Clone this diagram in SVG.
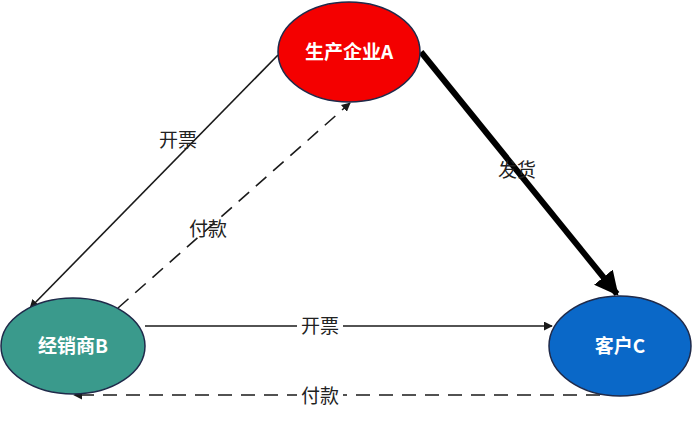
<svg xmlns="http://www.w3.org/2000/svg" width="693" height="421" viewBox="0 0 693 421">
<style>
.n{stroke:#1f2a4a;stroke-width:1.5}
.nt{font-family:"Noto Sans CJK SC","Noto Sans",sans-serif;font-weight:bold;font-size:19px;fill:#fff;text-anchor:middle}
.l{font-family:"Noto Sans CJK SC","Noto Sans",sans-serif;font-size:19px;fill:#222;text-anchor:middle}
.c{stroke:#1a1a1a;stroke-width:1.6;fill:none}
.d{stroke-dasharray:14 9}
</style>
<defs>
<marker id="ar" viewBox="0 0 10 10" refX="9" refY="5" markerWidth="9" markerHeight="9" markerUnits="userSpaceOnUse" orient="auto"><path d="M0,0L10,5L0,10z" fill="#1a1a1a"/></marker>
<marker id="ab" viewBox="0 0 10 10" refX="9" refY="5" markerWidth="4" markerHeight="4" orient="auto"><path d="M0,0L10,5L0,10z" fill="#000"/></marker>
</defs>
<g id="connectors">
<line class="c" x1="278" y1="55" x2="30" y2="308" marker-end="url(#ar)"/>
<line class="c d" x1="118" y1="308" x2="350" y2="103" marker-end="url(#ar)"/>
<line x1="421" y1="52" x2="617" y2="294" stroke="#000" stroke-width="6" marker-end="url(#ab)"/>
<line class="c" x1="145" y1="326" x2="552" y2="326" marker-end="url(#ar)"/>
<line class="c d" x1="600" y1="395" x2="74" y2="395" marker-end="url(#ar)"/>
<text class="l" x="178" y="147">开票</text>
<text class="l" x="208" y="236">付款</text>
<text class="l" x="517" y="177">发货</text>
<rect x="297" y="314" width="46" height="24" fill="#fff"/>
<text class="l" x="320" y="333">开票</text>
<rect x="297" y="384" width="46" height="24" fill="#fff"/>
<text class="l" x="320" y="403">付款</text>
</g>
<g id="nodeA"><ellipse class="n" cx="349" cy="52" rx="71" ry="50" fill="#f40000"/><text class="nt" x="349" y="59">生产企业A</text></g>
<g id="nodeB"><ellipse class="n" cx="73" cy="346" rx="72" ry="48" fill="#3a9a8c"/><text class="nt" x="73" y="353">经销商B</text></g>
<g id="nodeC"><ellipse class="n" cx="620" cy="346" rx="71" ry="50" fill="#0a68c8"/><text class="nt" x="620" y="353">客户C</text></g>
</svg>
